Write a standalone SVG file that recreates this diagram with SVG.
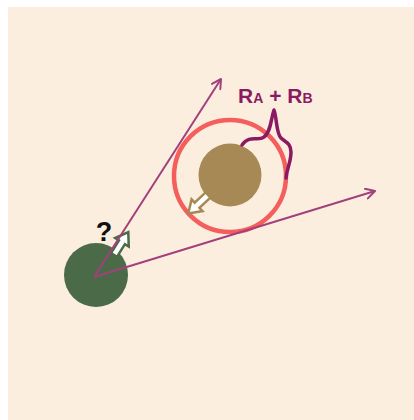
<svg xmlns="http://www.w3.org/2000/svg" width="414" height="420" viewBox="0 0 414 420">
  <style>
    .conn { stroke: #A2407C; stroke-width: 2; fill: none; }
    .label { font-family: "Liberation Sans", Arial, sans-serif; font-weight: bold; fill: #8A1B62; }
    .q { font-family: "Liberation Sans", Arial, sans-serif; font-weight: bold; fill: #111; font-size: 27px; }
    .hollow { fill: #FFFFFF; stroke-width: 2.5; stroke-linejoin: miter; }
  </style>
  <defs>
    <marker id="open" viewBox="0 0 12 12" refX="10" refY="6" markerWidth="12" markerHeight="12" markerUnits="userSpaceOnUse" orient="auto">
      <polyline points="1,1 10,6 1,11" fill="none" stroke="#A2407C" stroke-width="2" stroke-linecap="round" stroke-linejoin="round"/>
    </marker>
    <path id="blockArrow" d="M0,-3.5 L15,-3.5 L15,-8 L27,0 L15,8 L15,3.5 L0,3.5 Z"/>
  </defs>
  <rect x="8" y="7" width="406" height="413" fill="#FCEEDF"/>

  <g id="node-target">
    <circle cx="230" cy="176" r="56" fill="none" stroke="#F45E5C" stroke-width="4.5"/>
    <circle cx="230" cy="175" r="31.5" fill="#A68955"/>
    <use href="#blockArrow" class="hollow" stroke="#A68955" transform="translate(208,195) rotate(137)"/>
  </g>

  <g id="node-self">
    <circle cx="96" cy="275" r="32" fill="#4A6A48"/>
    <use href="#blockArrow" class="hollow" stroke="#4A6A48" transform="translate(114,255) rotate(-58)"/>
  </g>

  <g id="connectors">
    <line class="conn" x1="94" y1="277" x2="221" y2="79" marker-end="url(#open)"/>
    <line class="conn" x1="94" y1="277" x2="375" y2="191" marker-end="url(#open)"/>
  </g>

  <g id="label-radius">
    <path d="M242,145 C250,134 258,142 264,137 C271,132 271,118 274,110 C277,118 276,133 281,138 C285,142 291,143 291,152 C291,162 287,168 286,178" fill="none" stroke="#8A1B62" stroke-width="3.5" stroke-linecap="round" stroke-linejoin="round"/>
    <text class="label" x="238" y="103" font-size="21">R<tspan font-size="14">A</tspan> + R<tspan font-size="14">B</tspan></text>
  </g>

  <g id="label-question">
    <text class="q" x="104" y="241" text-anchor="middle">?</text>
  </g>
</svg>
